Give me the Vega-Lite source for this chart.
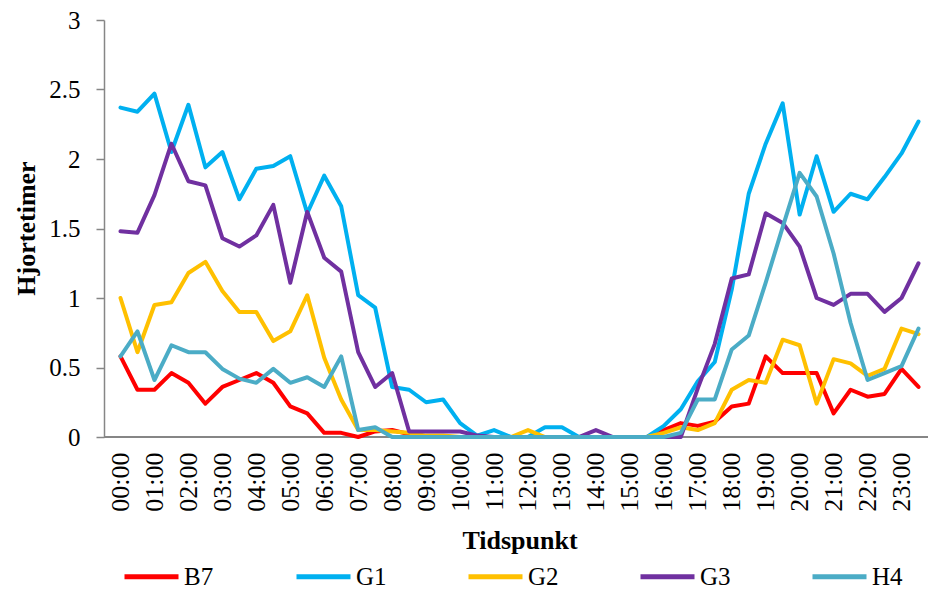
{
  "$schema": "https://vega.github.io/schema/vega-lite/v6.json",
  "width": 824,
  "height": 417,
  "autosize": {"type": "none"},
  "padding": {"left": 104, "top": 20, "right": 0, "bottom": 155},
  "background": "white",
  "config": {"view": {"stroke": null}, "font": "Liberation Serif"},
  "datasets": {
    "rows": [
      {"t":"00:00","s":"B7","v":0.58},{"t":"00:30","s":"B7","v":0.34},{"t":"01:00","s":"B7","v":0.34},{"t":"01:30","s":"B7","v":0.46},{"t":"02:00","s":"B7","v":0.39},{"t":"02:30","s":"B7","v":0.24},{"t":"03:00","s":"B7","v":0.36},{"t":"03:30","s":"B7","v":0.41},{"t":"04:00","s":"B7","v":0.46},{"t":"04:30","s":"B7","v":0.39},{"t":"05:00","s":"B7","v":0.22},{"t":"05:30","s":"B7","v":0.17},{"t":"06:00","s":"B7","v":0.03},{"t":"06:30","s":"B7","v":0.03},{"t":"07:00","s":"B7","v":0.0},{"t":"07:30","s":"B7","v":0.04},{"t":"08:00","s":"B7","v":0.05},{"t":"08:30","s":"B7","v":0.02},{"t":"09:00","s":"B7","v":0},{"t":"09:30","s":"B7","v":0},{"t":"10:00","s":"B7","v":0},{"t":"10:30","s":"B7","v":0},{"t":"11:00","s":"B7","v":0},{"t":"11:30","s":"B7","v":0},{"t":"12:00","s":"B7","v":0},{"t":"12:30","s":"B7","v":0},{"t":"13:00","s":"B7","v":0},{"t":"13:30","s":"B7","v":0},{"t":"14:00","s":"B7","v":0},{"t":"14:30","s":"B7","v":0},{"t":"15:00","s":"B7","v":0},{"t":"15:30","s":"B7","v":0},{"t":"16:00","s":"B7","v":0.05},{"t":"16:30","s":"B7","v":0.10},{"t":"17:00","s":"B7","v":0.08},{"t":"17:30","s":"B7","v":0.11},{"t":"18:00","s":"B7","v":0.22},{"t":"18:30","s":"B7","v":0.24},{"t":"19:00","s":"B7","v":0.58},{"t":"19:30","s":"B7","v":0.46},{"t":"20:00","s":"B7","v":0.46},{"t":"20:30","s":"B7","v":0.46},{"t":"21:00","s":"B7","v":0.17},{"t":"21:30","s":"B7","v":0.34},{"t":"22:00","s":"B7","v":0.29},{"t":"22:30","s":"B7","v":0.31},{"t":"23:00","s":"B7","v":0.49},{"t":"23:30","s":"B7","v":0.36},
      {"t":"00:00","s":"G1","v":2.37},{"t":"00:30","s":"G1","v":2.34},{"t":"01:00","s":"G1","v":2.47},{"t":"01:30","s":"G1","v":2.05},{"t":"02:00","s":"G1","v":2.39},{"t":"02:30","s":"G1","v":1.94},{"t":"03:00","s":"G1","v":2.05},{"t":"03:30","s":"G1","v":1.71},{"t":"04:00","s":"G1","v":1.93},{"t":"04:30","s":"G1","v":1.95},{"t":"05:00","s":"G1","v":2.02},{"t":"05:30","s":"G1","v":1.61},{"t":"06:00","s":"G1","v":1.88},{"t":"06:30","s":"G1","v":1.66},{"t":"07:00","s":"G1","v":1.02},{"t":"07:30","s":"G1","v":0.93},{"t":"08:00","s":"G1","v":0.36},{"t":"08:30","s":"G1","v":0.34},{"t":"09:00","s":"G1","v":0.25},{"t":"09:30","s":"G1","v":0.27},{"t":"10:00","s":"G1","v":0.10},{"t":"10:30","s":"G1","v":0.01},{"t":"11:00","s":"G1","v":0.05},{"t":"11:30","s":"G1","v":0},{"t":"12:00","s":"G1","v":0},{"t":"12:30","s":"G1","v":0.07},{"t":"13:00","s":"G1","v":0.07},{"t":"13:30","s":"G1","v":0},{"t":"14:00","s":"G1","v":0},{"t":"14:30","s":"G1","v":0},{"t":"15:00","s":"G1","v":0},{"t":"15:30","s":"G1","v":0},{"t":"16:00","s":"G1","v":0.08},{"t":"16:30","s":"G1","v":0.20},{"t":"17:00","s":"G1","v":0.40},{"t":"17:30","s":"G1","v":0.54},{"t":"18:00","s":"G1","v":1.06},{"t":"18:30","s":"G1","v":1.75},{"t":"19:00","s":"G1","v":2.11},{"t":"19:30","s":"G1","v":2.40},{"t":"20:00","s":"G1","v":1.60},{"t":"20:30","s":"G1","v":2.02},{"t":"21:00","s":"G1","v":1.62},{"t":"21:30","s":"G1","v":1.75},{"t":"22:00","s":"G1","v":1.71},{"t":"22:30","s":"G1","v":1.87},{"t":"23:00","s":"G1","v":2.04},{"t":"23:30","s":"G1","v":2.27},
      {"t":"00:00","s":"G2","v":1.00},{"t":"00:30","s":"G2","v":0.61},{"t":"01:00","s":"G2","v":0.95},{"t":"01:30","s":"G2","v":0.97},{"t":"02:00","s":"G2","v":1.18},{"t":"02:30","s":"G2","v":1.26},{"t":"03:00","s":"G2","v":1.05},{"t":"03:30","s":"G2","v":0.90},{"t":"04:00","s":"G2","v":0.90},{"t":"04:30","s":"G2","v":0.69},{"t":"05:00","s":"G2","v":0.76},{"t":"05:30","s":"G2","v":1.02},{"t":"06:00","s":"G2","v":0.57},{"t":"06:30","s":"G2","v":0.27},{"t":"07:00","s":"G2","v":0.05},{"t":"07:30","s":"G2","v":0.05},{"t":"08:00","s":"G2","v":0.04},{"t":"08:30","s":"G2","v":0.03},{"t":"09:00","s":"G2","v":0.01},{"t":"09:30","s":"G2","v":0.01},{"t":"10:00","s":"G2","v":0},{"t":"10:30","s":"G2","v":0},{"t":"11:00","s":"G2","v":0},{"t":"11:30","s":"G2","v":0},{"t":"12:00","s":"G2","v":0.05},{"t":"12:30","s":"G2","v":0},{"t":"13:00","s":"G2","v":0},{"t":"13:30","s":"G2","v":0},{"t":"14:00","s":"G2","v":0},{"t":"14:30","s":"G2","v":0},{"t":"15:00","s":"G2","v":0},{"t":"15:30","s":"G2","v":0},{"t":"16:00","s":"G2","v":0.03},{"t":"16:30","s":"G2","v":0.07},{"t":"17:00","s":"G2","v":0.05},{"t":"17:30","s":"G2","v":0.10},{"t":"18:00","s":"G2","v":0.34},{"t":"18:30","s":"G2","v":0.41},{"t":"19:00","s":"G2","v":0.39},{"t":"19:30","s":"G2","v":0.70},{"t":"20:00","s":"G2","v":0.66},{"t":"20:30","s":"G2","v":0.24},{"t":"21:00","s":"G2","v":0.56},{"t":"21:30","s":"G2","v":0.53},{"t":"22:00","s":"G2","v":0.44},{"t":"22:30","s":"G2","v":0.49},{"t":"23:00","s":"G2","v":0.78},{"t":"23:30","s":"G2","v":0.74},
      {"t":"00:00","s":"G3","v":1.48},{"t":"00:30","s":"G3","v":1.47},{"t":"01:00","s":"G3","v":1.74},{"t":"01:30","s":"G3","v":2.11},{"t":"02:00","s":"G3","v":1.84},{"t":"02:30","s":"G3","v":1.81},{"t":"03:00","s":"G3","v":1.43},{"t":"03:30","s":"G3","v":1.37},{"t":"04:00","s":"G3","v":1.45},{"t":"04:30","s":"G3","v":1.67},{"t":"05:00","s":"G3","v":1.11},{"t":"05:30","s":"G3","v":1.62},{"t":"06:00","s":"G3","v":1.29},{"t":"06:30","s":"G3","v":1.19},{"t":"07:00","s":"G3","v":0.61},{"t":"07:30","s":"G3","v":0.36},{"t":"08:00","s":"G3","v":0.46},{"t":"08:30","s":"G3","v":0.04},{"t":"09:00","s":"G3","v":0.04},{"t":"09:30","s":"G3","v":0.04},{"t":"10:00","s":"G3","v":0.04},{"t":"10:30","s":"G3","v":0.01},{"t":"11:00","s":"G3","v":0},{"t":"11:30","s":"G3","v":0},{"t":"12:00","s":"G3","v":0},{"t":"12:30","s":"G3","v":0},{"t":"13:00","s":"G3","v":0},{"t":"13:30","s":"G3","v":0},{"t":"14:00","s":"G3","v":0.05},{"t":"14:30","s":"G3","v":0},{"t":"15:00","s":"G3","v":0},{"t":"15:30","s":"G3","v":0},{"t":"16:00","s":"G3","v":0},{"t":"16:30","s":"G3","v":0},{"t":"17:00","s":"G3","v":0.35},{"t":"17:30","s":"G3","v":0.67},{"t":"18:00","s":"G3","v":1.14},{"t":"18:30","s":"G3","v":1.17},{"t":"19:00","s":"G3","v":1.61},{"t":"19:30","s":"G3","v":1.54},{"t":"20:00","s":"G3","v":1.37},{"t":"20:30","s":"G3","v":1.00},{"t":"21:00","s":"G3","v":0.95},{"t":"21:30","s":"G3","v":1.03},{"t":"22:00","s":"G3","v":1.03},{"t":"22:30","s":"G3","v":0.90},{"t":"23:00","s":"G3","v":1.00},{"t":"23:30","s":"G3","v":1.25},
      {"t":"00:00","s":"H4","v":0.58},{"t":"00:30","s":"H4","v":0.76},{"t":"01:00","s":"H4","v":0.41},{"t":"01:30","s":"H4","v":0.66},{"t":"02:00","s":"H4","v":0.61},{"t":"02:30","s":"H4","v":0.61},{"t":"03:00","s":"H4","v":0.49},{"t":"03:30","s":"H4","v":0.42},{"t":"04:00","s":"H4","v":0.39},{"t":"04:30","s":"H4","v":0.49},{"t":"05:00","s":"H4","v":0.39},{"t":"05:30","s":"H4","v":0.43},{"t":"06:00","s":"H4","v":0.36},{"t":"06:30","s":"H4","v":0.58},{"t":"07:00","s":"H4","v":0.05},{"t":"07:30","s":"H4","v":0.07},{"t":"08:00","s":"H4","v":0},{"t":"08:30","s":"H4","v":0},{"t":"09:00","s":"H4","v":0},{"t":"09:30","s":"H4","v":0},{"t":"10:00","s":"H4","v":0},{"t":"10:30","s":"H4","v":0},{"t":"11:00","s":"H4","v":0},{"t":"11:30","s":"H4","v":0},{"t":"12:00","s":"H4","v":0},{"t":"12:30","s":"H4","v":0},{"t":"13:00","s":"H4","v":0},{"t":"13:30","s":"H4","v":0},{"t":"14:00","s":"H4","v":0},{"t":"14:30","s":"H4","v":0},{"t":"15:00","s":"H4","v":0},{"t":"15:30","s":"H4","v":0},{"t":"16:00","s":"H4","v":0},{"t":"16:30","s":"H4","v":0.03},{"t":"17:00","s":"H4","v":0.27},{"t":"17:30","s":"H4","v":0.27},{"t":"18:00","s":"H4","v":0.63},{"t":"18:30","s":"H4","v":0.73},{"t":"19:00","s":"H4","v":1.11},{"t":"19:30","s":"H4","v":1.51},{"t":"20:00","s":"H4","v":1.90},{"t":"20:30","s":"H4","v":1.73},{"t":"21:00","s":"H4","v":1.32},{"t":"21:30","s":"H4","v":0.82},{"t":"22:00","s":"H4","v":0.41},{"t":"22:30","s":"H4","v":0.46},{"t":"23:00","s":"H4","v":0.51},{"t":"23:30","s":"H4","v":0.78}
    ]
  },
  "data": {"name": "rows"},
  "layer": [
    {
      "mark": {"type": "rule", "color": "#868686", "strokeWidth": 1.5},
      "encoding": {
        "y": {"datum": 0, "type": "quantitative", "scale": {"domain": [0, 3]}}
      }
    },
    {
      "mark": {"type": "line", "strokeWidth": 4, "strokeJoin": "round", "strokeCap": "round"},
      "encoding": {
        "x": {
          "field": "t", "type": "ordinal", "sort": null,
          "scale": {"type": "point", "range": [8, 823]},
          "axis": {
            "title": "Tidspunkt",
            "values": ["00:00","01:00","02:00","03:00","04:00","05:00","06:00","07:00","08:00","09:00","10:00","11:00","12:00","13:00","14:00","15:00","16:00","17:00","18:00","19:00","20:00","21:00","22:00","23:00"],
            "labelAngle": -90, "labelAlign": "right", "labelBaseline": "middle",
            "labelFontSize": 26, "labelColor": "black", "labelFont": "Liberation Serif",
            "labelOverlap": false, "labelPadding": 15,
            "ticks": false, "tickSize": 0, "domain": false, "grid": false,
            "titleFontSize": 26, "titleFontWeight": "bold", "titleColor": "black", "titleFont": "Liberation Serif",
            "titleY": 111, "titleBaseline": "alphabetic"
          }
        },
        "y": {
          "field": "v", "type": "quantitative",
          "scale": {"domain": [0, 3]},
          "axis": {
            "title": "Hjortetimer",
            "values": [0, 0.5, 1, 1.5, 2, 2.5, 3],
            "labelExpr": "'' + datum.value",
            "labelFontSize": 25, "labelColor": "black", "labelFont": "Liberation Serif",
            "labelPadding": 16, "tickSize": 8, "tickColor": "#868686", "tickWidth": 1.5,
            "domainColor": "#868686", "domainWidth": 1.5, "grid": false,
            "titleFontSize": 26, "titleFontWeight": "bold", "titleColor": "black", "titleFont": "Liberation Serif",
            "titleX": -70, "titleY": 208, "titleBaseline": "alphabetic", "titleAlign": "center", "titleAngle": -90
          }
        },
        "color": {
          "field": "s", "type": "nominal",
          "scale": {"domain": ["B7", "G1", "G2", "G3", "H4"], "range": ["#FF0000", "#00B0F0", "#FFC000", "#7030A0", "#4BACC6"]},
          "legend": {
            "orient": "none", "legendX": 18, "legendY": 527, "direction": "horizontal", "columns": 5,
            "title": null, "symbolType": "stroke", "symbolSize": 2916, "symbolStrokeWidth": 5,
            "labelFontSize": 25, "labelColor": "black", "labelFont": "Liberation Serif", "labelOffset": 3,
            "columnPadding": 71, "gridAlign": "all"
          }
        }
      }
    }
  ]
}
